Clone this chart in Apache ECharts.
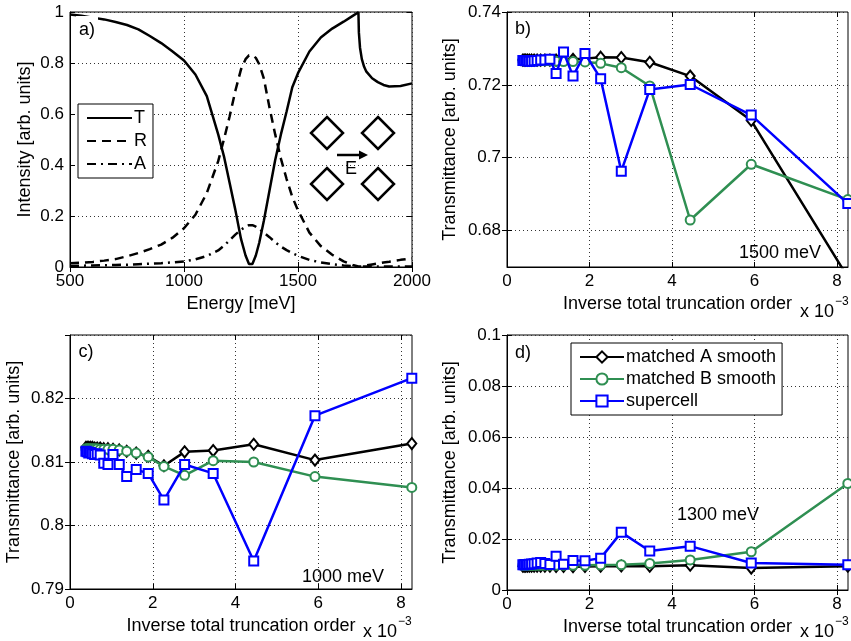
<!DOCTYPE html>
<html>
<head>
<meta charset="utf-8">
<script src="https://cdn.jsdelivr.net/npm/echarts@6/dist/echarts.min.js"></script>
<style>
html, body { margin: 0; padding: 0; background: #fff; }
#chart { width: 851px; height: 641px; }
</style>
</head>
<body>
<div id="chart"></div>
<script>
// panel a) spectrum
var energy = [500, 550, 600, 650, 700, 750, 800, 850, 900, 950,
    1000, 1050, 1100, 1150, 1175, 1200, 1225, 1250, 1270, 1285,
    1292, 1300, 1315, 1330, 1350, 1375, 1400, 1425, 1450, 1475,
    1500, 1550, 1600, 1650, 1700, 1740, 1765, 1767, 1772, 1780,
    1790, 1800, 1825, 1850, 1875, 1900, 1950, 2000];
var specT = [0.99, 0.985, 0.978, 0.971, 0.961, 0.949, 0.932, 0.906, 0.878, 0.845,
    0.81, 0.755, 0.67, 0.52, 0.435, 0.33, 0.225, 0.11, 0.045, 0.012,
    0.006, 0.012, 0.045, 0.095, 0.18, 0.30, 0.42, 0.52, 0.61, 0.705,
    0.76, 0.845, 0.90, 0.935, 0.962, 0.985, 0.999, 0.92, 0.86, 0.815,
    0.785, 0.766, 0.74, 0.725, 0.714, 0.708, 0.71, 0.72];
var specR = [0.015, 0.017, 0.02, 0.025, 0.031, 0.042, 0.055, 0.07, 0.088, 0.115,
    0.152, 0.205, 0.29, 0.415, 0.50, 0.59, 0.69, 0.775, 0.815, 0.83,
    0.832, 0.831, 0.82, 0.795, 0.74, 0.625, 0.52, 0.425, 0.345, 0.275,
    0.222, 0.135, 0.082, 0.048, 0.022, 0.008, 0.002, 0.001, 0.001, 0.002,
    0.004, 0.006, 0.01, 0.014, 0.018, 0.021, 0.028, 0.034];
var specA = [0.004, 0.005, 0.006, 0.007, 0.008, 0.009, 0.011, 0.013, 0.015, 0.018,
    0.022, 0.03, 0.043, 0.065, 0.083, 0.105, 0.127, 0.146, 0.158, 0.164,
    0.165, 0.164, 0.158, 0.149, 0.135, 0.117, 0.097, 0.08, 0.066, 0.054,
    0.044, 0.028, 0.018, 0.011, 0.006, 0.003, 0.002, 0.002, 0.002, 0.002,
    0.002, 0.002, 0.002, 0.002, 0.002, 0.002, 0.002, 0.002];

// inverse total truncation order (x 10^-3)
var invOrder = [0.384, 0.416, 0.453, 0.494, 0.541, 0.595, 0.657, 0.730, 0.816, 0.918, 1.04, 1.19, 1.37, 1.60, 1.89, 2.27, 2.77, 3.46, 4.44, 5.92, 8.26];

// b) 1500 meV
var b1500A = [0.7268, 0.7268, 0.7268, 0.7268, 0.7268, 0.7268, 0.7268, 0.7268, 0.7268, 0.7268, 0.7268, 0.7268, 0.7269, 0.7270, 0.7272, 0.7276, 0.7275, 0.7262, 0.7224, 0.7102, 0.6672];
var b1500B = [0.7267, 0.7267, 0.7267, 0.7267, 0.7267, 0.7267, 0.7267, 0.7266, 0.7266, 0.7266, 0.7266, 0.7265, 0.7264, 0.7264, 0.7263, 0.7259, 0.7247, 0.7197, 0.6829, 0.6982, 0.6885];
var b1500C = [0.7267, 0.7267, 0.7266, 0.7266, 0.7265, 0.7265, 0.7266, 0.7267, 0.7268, 0.7268, 0.7270, 0.7231, 0.7290, 0.7224, 0.7286, 0.7217, 0.6963, 0.7187, 0.7201, 0.7117, 0.6874];

// c) 1000 meV
var c1000A = [0.8123, 0.8123, 0.8123, 0.8123, 0.8123, 0.8122, 0.8122, 0.8122, 0.8121, 0.8121, 0.8120, 0.8119, 0.8117, 0.8114, 0.8109, 0.8094, 0.8116, 0.8118, 0.8128, 0.8103, 0.8129];
var c1000B = [0.8121, 0.8121, 0.8121, 0.8121, 0.8121, 0.8121, 0.8121, 0.8120, 0.8120, 0.8120, 0.8120, 0.8119, 0.8117, 0.8114, 0.8108, 0.8093, 0.8079, 0.8102, 0.8100, 0.8077, 0.8060];
var c1000C = [0.8117, 0.8116, 0.8114, 0.8115, 0.8113, 0.8112, 0.8113, 0.8111, 0.8098, 0.8096, 0.8112, 0.8096, 0.8077, 0.8088, 0.8082, 0.8040, 0.8096, 0.8082, 0.7944, 0.8173, 0.8232];

// d) 1300 meV
var d1300A = [0.0093, 0.0093, 0.0093, 0.0093, 0.0093, 0.0093, 0.0093, 0.0093, 0.0093, 0.0093, 0.0093, 0.0092, 0.0092, 0.0091, 0.0092, 0.0093, 0.0094, 0.0093, 0.0097, 0.0086, 0.0093];
var d1300B = [0.0097, 0.0097, 0.0097, 0.0097, 0.0097, 0.0097, 0.0097, 0.0097, 0.0097, 0.0097, 0.0097, 0.0097, 0.0097, 0.0097, 0.0097, 0.0098, 0.0099, 0.0104, 0.0118, 0.0150, 0.0418];
var d1300C = [0.0099, 0.0099, 0.0100, 0.0100, 0.0101, 0.0102, 0.0103, 0.0106, 0.0108, 0.0104, 0.0100, 0.0132, 0.0101, 0.0116, 0.0115, 0.0125, 0.0226, 0.0153, 0.0172, 0.0106, 0.0099];

var methodNames = ['matched A smooth', 'matched B smooth', 'supercell'];
var specNames = ['T', 'R', 'A'];
var bYTicks = [0.68, 0.70, 0.72, 0.74];
var orderTicks = [0, 2, 4, 6, 8];

var font = 'Liberation Sans, Arial, Helvetica, sans-serif';
var green = '#2f8f52';
var blue = '#0000ff';

function pts(xs, ys) {
    return xs.map(function (x, i) { return [x, ys[i]]; });
}

function axis(grid, o) {
    var a = {
        type: 'value', gridIndex: grid, min: o.min, max: o.max, interval: o.interval,
        name: o.name, nameLocation: 'middle', nameGap: o.gap,
        nameTextStyle: { fontFamily: font, fontSize: 18, color: '#000' },
        axisLine: { show: true, onZero: false, lineStyle: { color: '#000', width: 1 } },
        axisTick: { show: true, inside: true, length: 5, lineStyle: { color: '#000' } },
        axisLabel: { margin: 6, fontFamily: font, fontSize: 17, color: '#000', showMaxLabel: o.maxLabel !== false,
            formatter: function (v) { return String(+v.toFixed(4)); } },
        splitLine: { show: true, lineStyle: { color: '#333', type: [1, 3], width: 1 } }
    };
    if (o.ticks) {
        a.axisTick.customValues = o.ticks;
        a.axisLabel.customValues = o.ticks;
    }
    return a;
}

// same scale on the opposite side, ticks only (box style)
function mirror(a, pos) {
    var m = {
        type: 'value', gridIndex: a.gridIndex, min: a.min, max: a.max, interval: a.interval, position: pos,
        axisLine: { show: false },
        axisTick: { show: true, inside: true, length: 5, lineStyle: { color: '#000' } },
        axisLabel: { show: false }, splitLine: { show: false }
    };
    if (a.axisTick.customValues) m.axisTick.customValues = a.axisTick.customValues;
    return m;
}

function spec(name, ys, dash) {
    return {
        type: 'line', name: name, xAxisIndex: 0, yAxisIndex: 0, data: pts(energy, ys),
        symbol: 'none', lineStyle: { color: '#000', width: 2.5, type: dash }, itemStyle: { color: '#000' }
    };
}

function conv(idx, k, ys) {
    var sym = ['emptyDiamond', 'emptyCircle', 'emptyRect'][k];
    var col = ['#000', green, blue][k];
    return {
        type: 'line', name: methodNames[k], xAxisIndex: idx, yAxisIndex: idx, data: pts(invOrder, ys),
        symbol: sym, symbolSize: k === 0 ? [9, 11] : 9, z: 2 + k,
        lineStyle: { color: col, width: 2.5 }, itemStyle: { color: col, borderWidth: 2 }
    };
}

function txt(x, y, s, size, align, bg) {
    var st = { text: s, x: x, y: y, font: size + 'px ' + font, fill: '#000', align: align || 'center', verticalAlign: 'middle' };
    if (bg) { st.backgroundColor = '#fff'; st.padding = [6, 3, 4, 3]; }
    return { type: 'text', z: 100, style: st };
}

function diamond(cx, cy) {
    return { type: 'polygon', z: 100, shape: { points: [[cx, cy - 16], [cx + 16, cy], [cx, cy + 16], [cx - 16, cy]] },
        style: { fill: 'none', stroke: '#000', lineWidth: 2.5 } };
}

var xAxes = [
    axis(0, { min: 500, max: 2000, interval: 500, name: 'Energy [meV]', gap: 28 }),
    axis(1, { min: 0, max: 8.265, interval: 2, name: 'Inverse total truncation order', gap: 28, ticks: orderTicks }),
    axis(2, { min: 0, max: 8.265, interval: 2, name: 'Inverse total truncation order', gap: 28, ticks: orderTicks }),
    axis(3, { min: 0, max: 8.265, interval: 2, name: 'Inverse total truncation order', gap: 28, ticks: orderTicks })
];
var yAxes = [
    axis(0, { min: 0, max: 1, interval: 0.2, name: 'Intensity [arb. units]', gap: 36 }),
    axis(1, { min: 0.67, max: 0.74, interval: 0.01, name: 'Transmittance [arb. units]', gap: 48, ticks: bYTicks }),
    axis(2, { min: 0.79, max: 0.83, interval: 0.01, name: 'Transmittance [arb. units]', gap: 47, maxLabel: false }),
    axis(3, { min: 0, max: 0.1, interval: 0.02, name: 'Transmittance [arb. units]', gap: 48 })
];

var chart = echarts.init(document.getElementById('chart'));
chart.setOption({
    animation: false,
    backgroundColor: '#fff',
    grid: [
        { left: 70, top: 12, width: 342, height: 255, show: true, borderColor: '#000', borderWidth: 1 },
        { left: 507, top: 12, width: 341, height: 255, show: true, borderColor: '#000', borderWidth: 1 },
        { left: 70, top: 335, width: 342, height: 254, show: true, borderColor: '#000', borderWidth: 1 },
        { left: 507, top: 335, width: 341, height: 255, show: true, borderColor: '#000', borderWidth: 1 }
    ],
    xAxis: xAxes.concat(xAxes.map(function (a) { return mirror(a, 'top'); })),
    yAxis: yAxes.concat(yAxes.map(function (a) { return mirror(a, 'right'); })),
    legend: [
        { data: specNames, orient: 'vertical', left: 78, top: 104, itemWidth: 45, itemHeight: 14, itemGap: 5,
          padding: [5, 6, 5, 8], borderColor: '#000', borderWidth: 1, backgroundColor: '#fff', selectedMode: false,
          itemStyle: { opacity: 0 }, textStyle: { fontFamily: font, fontSize: 18, color: '#000', padding: [0, 0, 0, -3] } },
        { data: methodNames, orient: 'vertical', left: 571, top: 343, itemWidth: 44, itemHeight: 14, itemGap: 4,
          padding: [5, 6, 5, 8], borderColor: '#000', borderWidth: 1, backgroundColor: '#fff', selectedMode: false,
          textStyle: { fontFamily: font, fontSize: 18, color: '#000', padding: [0, 0, 0, -3] } }
    ],
    series: [
        spec('T', specT, 'solid'),
        spec('R', specR, [9, 6]),
        spec('A', specA, [9, 5, 2, 5]),
        conv(1, 0, b1500A), conv(1, 1, b1500B), conv(1, 2, b1500C),
        conv(2, 0, c1000A), conv(2, 1, c1000B), conv(2, 2, c1000C),
        conv(3, 0, d1300A), conv(3, 1, d1300B), conv(3, 2, d1300C)
    ],
    graphic: [
        txt(87, 30, 'a)', 18, 'center', true),
        txt(523, 29, 'b)', 18, 'center', true),
        txt(86, 352, 'c)', 18, 'center', true),
        txt(523, 353, 'd)', 18, 'center', true),
        txt(780, 253, '1500 meV', 18),
        txt(343, 577, '1000 meV', 18),
        txt(718, 515, '1300 meV', 18),
        txt(800, 312, 'x 10', 18, 'left'), txt(835, 302, '\u22123', 12, 'left'),
        txt(363, 632, 'x 10', 18, 'left'), txt(398, 622, '\u22123', 12, 'left'),
        txt(800, 632, 'x 10', 18, 'left'), txt(835, 622, '\u22123', 12, 'left'),
        diamond(327, 133), diamond(378, 133), diamond(327, 184), diamond(378, 184),
        { type: 'line', z: 100, shape: { x1: 337, y1: 155, x2: 361, y2: 155 }, style: { stroke: '#000', lineWidth: 2.5 } },
        { type: 'polygon', z: 100, shape: { points: [[359, 150.5], [368, 155], [359, 159.5]] }, style: { fill: '#000' } },
        txt(351, 169, 'E', 18)
    ]
});
</script>
</body>
</html>
